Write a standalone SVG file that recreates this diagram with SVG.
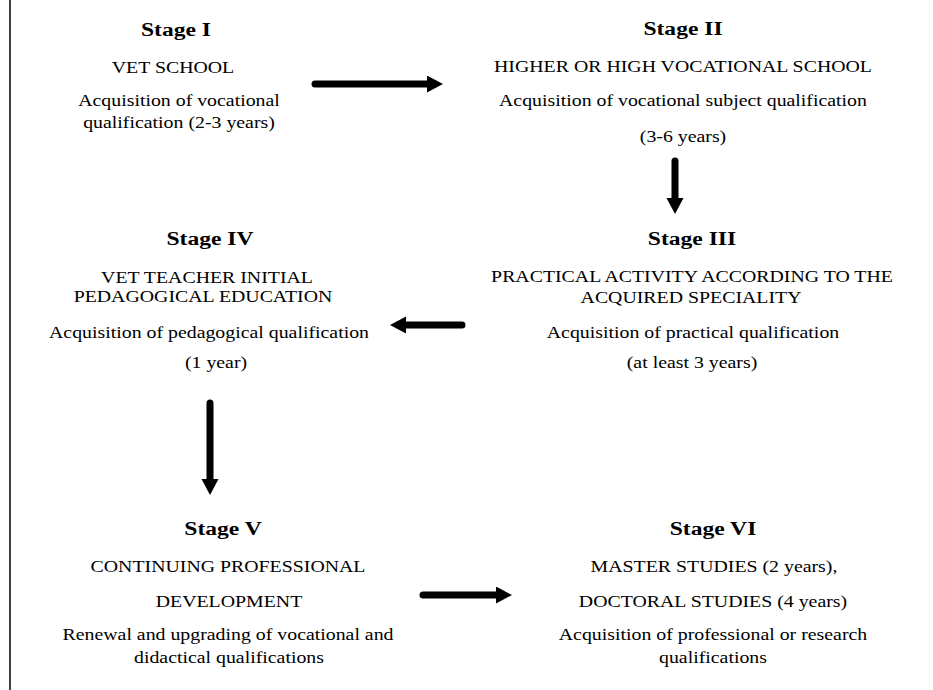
<svg xmlns="http://www.w3.org/2000/svg" width="933" height="690" viewBox="0 0 933 690">
<style>
  text { font-family: "Liberation Serif", "Times New Roman", serif; fill: #000; text-anchor: middle; }
  .t { font-size: 19px; font-weight: bold; }
  .b { font-size: 16px; }
  .conn { stroke: #000; stroke-width: 7; stroke-linecap: round; fill: none; }
</style>
<defs>
  <marker id="ah" markerUnits="userSpaceOnUse" markerWidth="17" markerHeight="18" refX="0" refY="8.5" orient="auto">
    <path d="M0,0 L16,8.5 L0,17 z" fill="#000"/>
  </marker>
</defs>
<rect x="0" y="0" width="933" height="690" fill="#fff"/>
<line x1="10" y1="0" x2="10" y2="690" stroke="#000" stroke-width="1.5"/>

<g id="stage1">
  <text class="t" transform="translate(176,36) scale(1.24,1)">Stage I</text>
  <text class="b" transform="translate(173,73) scale(1.24,1)">VET SCHOOL</text>
  <text class="b" transform="translate(179,106) scale(1.24,1)">Acquisition of vocational</text>
  <text class="b" transform="translate(179,128) scale(1.24,1)">qualification (2-3 years)</text>
</g>
<g id="stage2">
  <text class="t" transform="translate(683,35) scale(1.24,1)">Stage II</text>
  <text class="b" transform="translate(683,72) scale(1.24,1)">HIGHER OR HIGH VOCATIONAL SCHOOL</text>
  <text class="b" transform="translate(683,106) scale(1.24,1)">Acquisition of vocational subject qualification</text>
  <text class="b" transform="translate(683,142) scale(1.24,1)">(3-6 years)</text>
</g>
<g id="stage3">
  <text class="t" transform="translate(692,245) scale(1.24,1)">Stage III</text>
  <text class="b" transform="translate(692,282) scale(1.24,1)">PRACTICAL ACTIVITY ACCORDING TO THE</text>
  <text class="b" transform="translate(691,303) scale(1.24,1)">ACQUIRED SPECIALITY</text>
  <text class="b" transform="translate(693,338) scale(1.24,1)">Acquisition of practical qualification</text>
  <text class="b" transform="translate(692,368) scale(1.24,1)">(at least 3 years)</text>
</g>
<g id="stage4">
  <text class="t" transform="translate(210,245) scale(1.24,1)">Stage IV</text>
  <text class="b" transform="translate(207,283) scale(1.24,1)">VET TEACHER INITIAL</text>
  <text class="b" transform="translate(203,302) scale(1.24,1)">PEDAGOGICAL EDUCATION</text>
  <text class="b" transform="translate(209,338) scale(1.24,1)">Acquisition of pedagogical qualification</text>
  <text class="b" transform="translate(216,368) scale(1.24,1)">(1 year)</text>
</g>
<g id="stage5">
  <text class="t" transform="translate(223,535) scale(1.24,1)">Stage V</text>
  <text class="b" transform="translate(228,572) scale(1.24,1)">CONTINUING PROFESSIONAL</text>
  <text class="b" transform="translate(229,607) scale(1.24,1)">DEVELOPMENT</text>
  <text class="b" transform="translate(228,640) scale(1.24,1)">Renewal and upgrading of vocational and</text>
  <text class="b" transform="translate(229,663) scale(1.24,1)">didactical qualifications</text>
</g>
<g id="stage6">
  <text class="t" transform="translate(713,535) scale(1.24,1)">Stage VI</text>
  <text class="b" transform="translate(714,572) scale(1.24,1)">MASTER STUDIES (2 years),</text>
  <text class="b" transform="translate(713,607) scale(1.24,1)">DOCTORAL STUDIES (4 years)</text>
  <text class="b" transform="translate(713,640) scale(1.24,1)">Acquisition of professional or research</text>
  <text class="b" transform="translate(713,663) scale(1.24,1)">qualifications</text>
</g>

<g id="connectors">
  <line class="conn" x1="315" y1="84" x2="427" y2="84" marker-end="url(#ah)"/>
  <line class="conn" x1="675" y1="161" x2="675" y2="198" marker-end="url(#ah)"/>
  <line class="conn" x1="462" y1="325" x2="406" y2="325" marker-end="url(#ah)"/>
  <line class="conn" x1="210" y1="403" x2="210" y2="479" marker-end="url(#ah)"/>
  <line class="conn" x1="423" y1="595" x2="496" y2="595" marker-end="url(#ah)"/>
</g>
</svg>
